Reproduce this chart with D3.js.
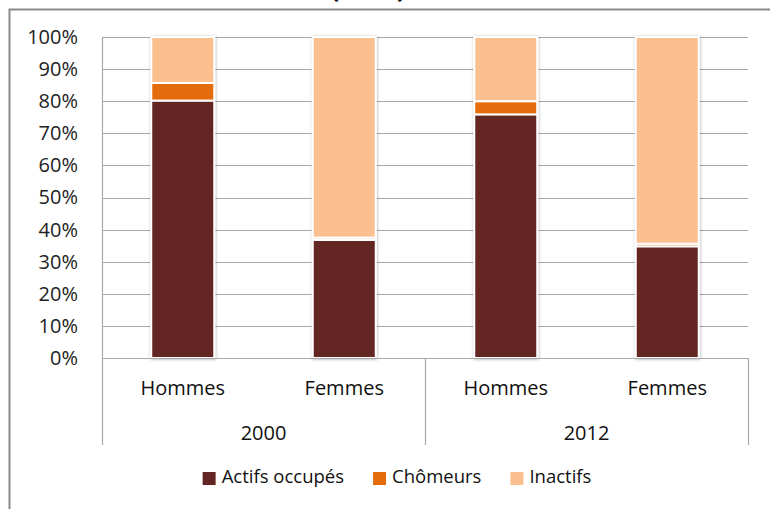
<!DOCTYPE html>
<html>
<head>
<meta charset="utf-8">
<script src="https://cdn.jsdelivr.net/npm/d3@7"></script>
<style>
  body { margin: 0; background: #fff; }
  svg { display: block; font-family: "Open Sans", sans-serif; }
</style>
</head>
<body>
<svg></svg>
<script>
const width = 770;
const height = 509;
const margin = { top: 37, right: 22, bottom: 151, left: 102 };

// data (percent of population)
const years = ["2000", "2012"];
const sexes = ["Hommes", "Femmes"];
const series = ["Actifs occupés", "Chômeurs", "Inactifs"];
const actifs = [80.2, 36.8, 75.9, 34.8];
const chomeurs = [5.5, 0.7, 4.1, 0.8];
const inactifs = [14.3, 62.5, 20.0, 64.4];
const yTicks = [0, 10, 20, 30, 40, 50, 60, 70, 80, 90, 100];

const colors = ["#632523", "#E46C0A", "#FAC090"];

const svg = d3.select("svg").attr("width", width).attr("height", height);

// build rows: one per bar
const data = [];
years.forEach((yr, i) => {
  sexes.forEach((s, j) => {
    const k = i * sexes.length + j;
    data.push({
      key: yr + "-" + s,
      year: yr,
      sex: s,
      "Actifs occupés": actifs[k],
      "Chômeurs": chomeurs[k],
      "Inactifs": inactifs[k],
    });
  });
});

// drop shadow for the bars
const defs = svg.append("defs");
const filter = defs.append("filter").attr("id", "shadow")
  .attr("x", "-20%").attr("y", "-5%").attr("width", "140%").attr("height", "110%");
filter.append("feDropShadow")
  .attr("dx", 0.5).attr("dy", 0.5)
  .attr("stdDeviation", 1.6)
  .attr("flood-color", "#000")
  .attr("flood-opacity", 0.3);

// outer frame of the chart area
svg.append("rect")
  .attr("x", 9.5).attr("y", 9.5)
  .attr("width", 800).attr("height", 600)
  .attr("fill", "none")
  .attr("stroke", "#8a8a8a")
  .attr("stroke-width", 2);

// title (mostly cut off above the picture)
svg.append("text")
  .attr("x", 368).attr("y", -2)
  .attr("text-anchor", "middle")
  .style("font-size", "24px")
  .style("font-weight", "bold")
  .attr("fill", "#000")
  .text("(en %)");

const x = d3.scaleBand()
  .domain(data.map((d) => d.key))
  .range([margin.left, width - margin.right])
  .paddingInner(0.61)
  .paddingOuter(0.305);

const y = d3.scaleLinear()
  .domain([0, 100])
  .range([height - margin.bottom, margin.top]);

// gridlines
svg.append("g")
  .selectAll("line")
  .data(yTicks)
  .join("line")
  .attr("x1", margin.left)
  .attr("x2", width - margin.right)
  .attr("y1", (d) => Math.round(y(d)) + 0.5)
  .attr("y2", (d) => Math.round(y(d)) + 0.5)
  .attr("stroke", "#a8a8a8")
  .attr("stroke-width", 1.2);

// y axis
const yAxis = (g) =>
  g
    .attr("transform", `translate(${margin.left},0)`)
    .call(d3.axisLeft(y).tickValues(yTicks).tickSize(0).tickPadding(24).tickFormat((d) => d + "%"))
    .call((g) => g.select(".domain").attr("stroke", "#a8a8a8").attr("stroke-width", 1.2))
    .call((g) => g.selectAll("text")
      .style("font-size", "20px")
      .style("font-family", "'Open Sans', sans-serif")
      .attr("fill", "#222"));
svg.append("g").call(yAxis);

// stacked bars
const stack = d3.stack().keys(series);
const stacked = stack(data);

svg.append("g")
  .attr("filter", "url(#shadow)")
  .selectAll("g")
  .data(stacked)
  .join("g")
  .attr("fill", (d, i) => colors[i])
  .selectAll("rect")
  .data((d) => d)
  .join("rect")
  .attr("x", (d) => x(d.data.key))
  .attr("y", (d) => y(d[1]))
  .attr("width", x.bandwidth())
  .attr("height", (d) => y(d[0]) - y(d[1]))
  .attr("stroke", "#fff")
  .attr("stroke-width", 2);

// x axis: baseline, sex labels, year labels and group separators
const baseY = y(0);
const sepBottom = 445;
svg.append("line")
  .attr("x1", margin.left).attr("x2", width - margin.right)
  .attr("y1", Math.round(baseY) + 0.5).attr("y2", Math.round(baseY) + 0.5)
  .attr("stroke", "#a8a8a8").attr("stroke-width", 1.2);

const groupEdges = [margin.left, (margin.left + width - margin.right) / 2, width - margin.right];
svg.append("g")
  .selectAll("line")
  .data(groupEdges)
  .join("line")
  .attr("x1", (d) => Math.round(d) + 0.5)
  .attr("x2", (d) => Math.round(d) + 0.5)
  .attr("y1", baseY)
  .attr("y2", sepBottom)
  .attr("stroke", "#a8a8a8")
  .attr("stroke-width", 1.2);

svg.append("g")
  .selectAll("text")
  .data(data)
  .join("text")
  .attr("x", (d) => x(d.key) + x.bandwidth() / 2)
  .attr("y", 395)
  .attr("text-anchor", "middle")
  .style("font-size", "20px")
  .attr("fill", "#111")
  .text((d) => d.sex);

svg.append("g")
  .selectAll("text")
  .data(years)
  .join("text")
  .attr("x", (d, i) => (groupEdges[i] + groupEdges[i + 1]) / 2)
  .attr("y", 440)
  .attr("text-anchor", "middle")
  .style("font-size", "20px")
  .attr("fill", "#111")
  .text((d) => d);

// legend
const legendRectSize = 13;
const legendSpacing = 6;
const legendGap = 29;
const legend = svg.append("g");
const items = legend
  .selectAll("g")
  .data(series)
  .join("g");
items.append("rect")
  .attr("width", legendRectSize)
  .attr("height", legendRectSize)
  .attr("y", -legendRectSize + 2)
  .attr("fill", (d, i) => colors[i]);
items.append("text")
  .attr("x", legendRectSize + legendSpacing)
  .style("font-size", "18.5px")
  .attr("fill", "#111")
  .text((d) => d);

let offset = 0;
items.each(function () {
  const w = this.querySelector("text").getComputedTextLength();
  d3.select(this).attr("transform", `translate(${offset},0)`);
  offset += legendRectSize + legendSpacing + w + legendGap;
});
const legendWidth = offset - legendGap;
legend.attr("transform", `translate(${397 - legendWidth / 2},483)`);
</script>
</body>
</html>
